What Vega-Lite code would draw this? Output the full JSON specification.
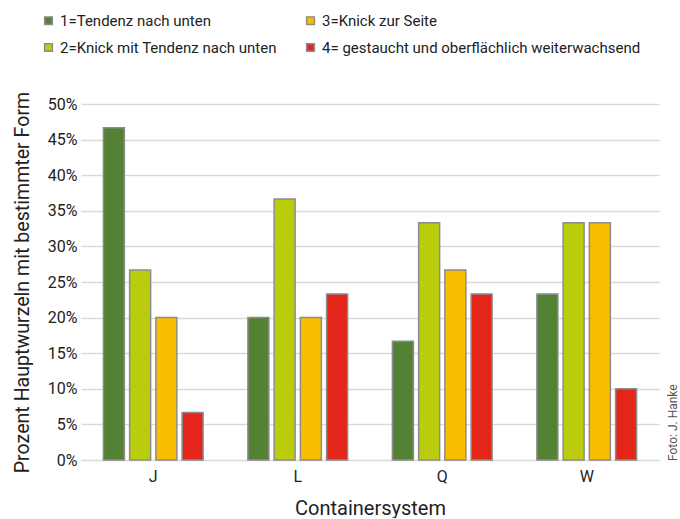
{
  "$schema": "https://vega.github.io/schema/vega-lite/v6.json",
  "width": 578,
  "height": 356,
  "padding": {"left": 12, "top": 13, "right": 0, "bottom": 0},
  "background": "white",
  "config": {
    "font": "Roboto",
    "view": {"stroke": null},
    "axis": {"labelColor": "#222", "titleColor": "#222", "titleFontWeight": "normal"}
  },
  "title": {
    "text": "Foto: J. Hanke",
    "orient": "right",
    "anchor": "end",
    "angle": 270,
    "align": "left",
    "baseline": "bottom",
    "dx": 57,
    "fontSize": 12,
    "fontWeight": "normal",
    "color": "#555",
    "offset": 9
  },
  "data": {
    "values": [
      {"system": "J", "form": "1=Tendenz nach unten", "anteil": 0.4667},
      {"system": "J", "form": "2=Knick mit Tendenz nach unten", "anteil": 0.2667},
      {"system": "J", "form": "3=Knick zur Seite", "anteil": 0.2},
      {"system": "J", "form": "4= gestaucht und oberflächlich weiterwachsend", "anteil": 0.0667},
      {"system": "L", "form": "1=Tendenz nach unten", "anteil": 0.2},
      {"system": "L", "form": "2=Knick mit Tendenz nach unten", "anteil": 0.3667},
      {"system": "L", "form": "3=Knick zur Seite", "anteil": 0.2},
      {"system": "L", "form": "4= gestaucht und oberflächlich weiterwachsend", "anteil": 0.2333},
      {"system": "Q", "form": "1=Tendenz nach unten", "anteil": 0.1667},
      {"system": "Q", "form": "2=Knick mit Tendenz nach unten", "anteil": 0.3333},
      {"system": "Q", "form": "3=Knick zur Seite", "anteil": 0.2667},
      {"system": "Q", "form": "4= gestaucht und oberflächlich weiterwachsend", "anteil": 0.2333},
      {"system": "W", "form": "1=Tendenz nach unten", "anteil": 0.2333},
      {"system": "W", "form": "2=Knick mit Tendenz nach unten", "anteil": 0.3333},
      {"system": "W", "form": "3=Knick zur Seite", "anteil": 0.3333},
      {"system": "W", "form": "4= gestaucht und oberflächlich weiterwachsend", "anteil": 0.1}
    ]
  },
  "mark": {"type": "bar", "stroke": "#8c8c8c", "strokeWidth": 1.5},
  "encoding": {
    "x": {
      "field": "system",
      "type": "nominal",
      "scale": {"paddingInner": 0.31, "paddingOuter": 0.155},
      "axis": {
        "title": "Containersystem",
        "titleFontSize": 20,
        "titlePadding": 14,
        "labelFontSize": 16,
        "labelAngle": 0,
        "labelPadding": 8,
        "ticks": false,
        "domain": false
      }
    },
    "xOffset": {
      "field": "form",
      "type": "nominal",
      "scale": {"paddingInner": 0.2}
    },
    "y": {
      "field": "anteil",
      "type": "quantitative",
      "scale": {"domain": [0, 0.5]},
      "axis": {
        "title": "Prozent Hauptwurzeln mit bestimmter Form",
        "titleFontSize": 19.6,
        "titlePadding": 15,
        "format": ".0%",
        "tickCount": 10,
        "labelFontSize": 16,
        "labelPadding": 4,
        "ticks": false,
        "domain": false,
        "gridColor": "#d9d9d9",
        "gridWidth": 1.5
      }
    },
    "color": {
      "field": "form",
      "type": "nominal",
      "scale": {
        "domain": [
          "1=Tendenz nach unten",
          "2=Knick mit Tendenz nach unten",
          "3=Knick zur Seite",
          "4= gestaucht und oberflächlich weiterwachsend"
        ],
        "range": ["#548235", "#bacd0d", "#fbbd00", "#e3251a"]
      },
      "legend": {
        "title": null,
        "orient": "none",
        "legendX": -40,
        "legendY": -91,
        "columns": 2,
        "columnPadding": 26,
        "rowPadding": 11,
        "symbolType": "square",
        "symbolSize": 60,
        "symbolStrokeColor": "#8c8c8c",
        "symbolStrokeWidth": 1.5,
        "labelFontSize": 15,
        "labelColor": "#222",
        "labelLimit": 400
      }
    }
  }
}
